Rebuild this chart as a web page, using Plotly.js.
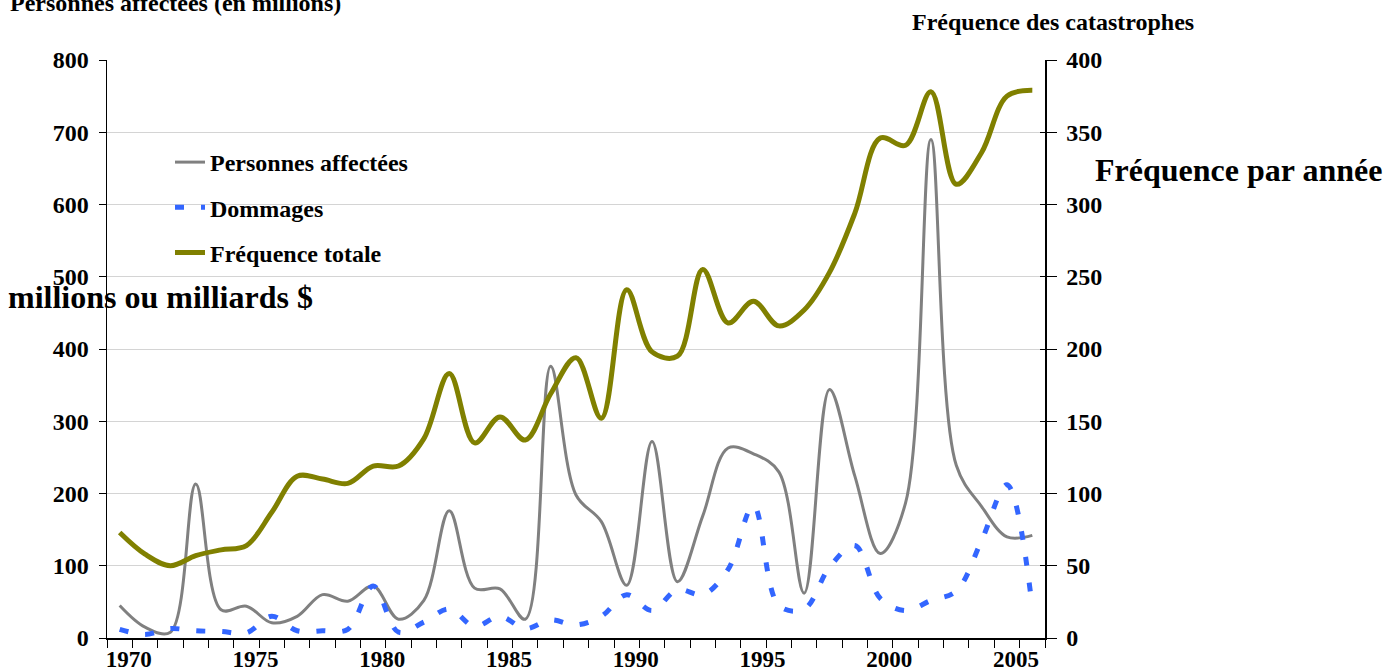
<!DOCTYPE html>
<html>
<head>
<meta charset="utf-8">
<script src="https://cdn.plot.ly/plotly-3.0.1.min.js"></script>
<style>
html,body{margin:0;padding:0;background:#fff;}
#chart{width:1388px;height:671px;}
</style>
</head>
<body>
<div id="chart"></div>
<script>
const years = [1970,1971,1972,1973,1974,1975,1976,1977,1978,1979,1980,1981,1982,1983,1984,1985,1986,1987,1988,1989,1990,1991,1992,1993,1994,1995,1996,1997,1998,1999,2000,2001,2002,2003,2004,2005,2006];
const personnesAffectees = [45,15,8,213,39,44,21,30,60,51,72,26,52,176,69,68,26,376,198,161,73,272,78,169,263,255,230,62,344,224,117,187,690,239,182,140,142];
const dommages = [12,5,13,10,9,7,30,10,10,12,72,8,22,40,16,30,13,25,18,30,60,38,67,60,95,183,45,40,98,128,55,38,52,65,135,212,42];
const frequenceTotale = [73,58,50,57,61,64,87,112,110,107,119,119,138,183,135,153,137,169,194,152,241,198,195,255,218,233,216,227,253,294,346,341,378,314,336,375,379];
const tickYears = [1970,1975,1980,1985,1990,1995,2000,2005];
const tickLabels = ['1970','1975','1980','1985','1990','1995','2000','2005'];
const leftTicks = [0,100,200,300,400,500,600,700,800];
const rightTicks = [0,50,100,150,200,250,300,350,400];

const serif = 'Liberation Serif, Times New Roman, serif';
const fb = (size) => ({family: serif, size: size, color: '#000', weight: 'bold'});

const traces = [
  {x: years, y: personnesAffectees, name: 'Personnes affectées', type: 'scatter', mode: 'lines',
   line: {color: '#808080', width: 3, shape: 'spline', smoothing: 1}, legendgroup: 'a', yaxis: 'y'},
  {x: years, y: dommages, name: 'Dommages', type: 'scatter', mode: 'lines',
   line: {color: '#3366ff', width: 5, dash: '9px,17px', shape: 'spline', smoothing: 1}, legendgroup: 'b', yaxis: 'y'},
  {x: years, y: frequenceTotale, name: 'Fréquence totale', type: 'scatter', mode: 'lines',
   line: {color: '#808000', width: 5, shape: 'spline', smoothing: 1}, legendgroup: 'c', yaxis: 'y2'},
  {x: [years[0]], y: [null], yaxis: 'y3', showlegend: false, hoverinfo: 'skip', type: 'scatter', mode: 'lines'}
];

const W = 1388, H = 671, L = 107, R = 343, T = 60, B = 33;
const pw = W - L - R, ph = H - T - B;
const px = (x) => (x - L) / pw;
const py = (y) => (H - B - y) / ph;

const layout = {
  width: W, height: H,
  margin: {l: L, r: R, t: T, b: B, pad: 0},
  paper_bgcolor: '#fff', plot_bgcolor: '#fff',
  showlegend: true,
  legend: {x: px(170), y: py(140), xanchor: 'left', yanchor: 'top', bgcolor: 'rgba(0,0,0,0)',
           font: fb(24), traceorder: 'grouped', tracegroupgap: 11},
  xaxis: {range: [1969.5, 2006.5], tickmode: 'array', tickvals: tickYears, ticktext: tickLabels,
          ticks: '', showgrid: false, zeroline: false, showline: true, linecolor: '#000', linewidth: 1.5,
          tickfont: fb(23), ticklabelshift: 9, ticklabelstandoff: 0,
          minor: {tick0: 1969.5, dtick: 1, ticks: 'outside', ticklen: 8, tickcolor: '#000', tickwidth: 1, showgrid: false}},
  yaxis: {range: [0, 800], tickmode: 'array', tickvals: leftTicks, ticks: 'outside', ticklen: 7, tickcolor: '#000',
          showline: true, linecolor: '#000', linewidth: 1.5, showgrid: true, gridcolor: '#d4d4d4', gridwidth: 1,
          zeroline: false, tickfont: fb(24), ticklabelstandoff: 5},
  yaxis2: {range: [0, 400], tickmode: 'array', tickvals: rightTicks, overlaying: 'y', side: 'right', anchor: 'x',
           ticks: 'outside', ticklen: 10, tickcolor: '#000', showline: true, linecolor: '#000', linewidth: 1.5,
           showgrid: false, zeroline: false, tickfont: fb(24), ticklabelstandoff: 5},
  yaxis3: {range: [0, 400], tickmode: 'array', tickvals: rightTicks, overlaying: 'y', side: 'right', anchor: 'x',
           ticks: 'inside', ticklen: 5, tickcolor: '#000', showline: false, showgrid: false, zeroline: false,
           showticklabels: false},
  annotations: [
    {text: 'Personnes affectées (en millions)', xref: 'paper', yref: 'paper', x: px(8), y: py(3),
     xanchor: 'left', yanchor: 'middle', showarrow: false, font: fb(24)},
    {text: 'Fréquence des catastrophes', xref: 'paper', yref: 'paper', x: px(910), y: py(22),
     xanchor: 'left', yanchor: 'middle', showarrow: false, font: fb(24)},
    {text: 'millions ou milliards $', xref: 'paper', yref: 'paper', x: px(6), y: py(297),
     xanchor: 'left', yanchor: 'middle', showarrow: false, font: fb(32)},
    {text: 'Fréquence par année', xref: 'paper', yref: 'paper', x: px(1093), y: py(170),
     xanchor: 'left', yanchor: 'middle', showarrow: false, font: fb(32)}
  ]
};

Plotly.newPlot('chart', traces, layout, {displayModeBar: false, staticPlot: true});
</script>
</body>
</html>
